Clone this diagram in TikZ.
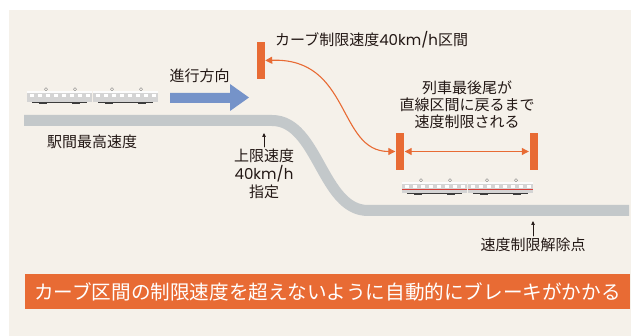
\documentclass[tikz,border=0pt]{standalone}
\usepackage{fontspec}
\setmainfont{Noto Sans CJK JP}
\newfontfamily\latinfont{Poppins}
\usepackage{tikz}
\usetikzlibrary{arrows}
\usetikzlibrary{arrows.meta}
\definecolor{fvfrea}{rgb}{0.9607843137254902,0.9450980392156862,0.9176470588235294}
\definecolor{eywbtu}{rgb}{0.9098039215686274,0.4196078431372549,0.20392156862745098}
\definecolor{ctcyca}{rgb}{0.7647058823529411,0.7843137254901961,0.792156862745098}
\definecolor{xvztcz}{rgb}{0.4588235294117647,0.5764705882352941,0.788235294117647}
\definecolor{stryrv}{rgb}{0.13725490196078433,0.09411764705882353,0.08235294117647059}
\definecolor{dududu}{rgb}{0.8313725490196079,0.8313725490196079,0.8313725490196079}
\definecolor{tctctc}{rgb}{0.23529411764705882,0.23529411764705882,0.23529411764705882}
\definecolor{dzuqta}{rgb}{0.8509803921568627,0.25098039215686274,0.22745098039215686}
\begin{document}
\begin{tikzpicture}[line cap=round,line join=round,>=triangle 45,x=1pt,y=-1pt,
  bar/.style={fill=eywbtu,inner sep=0pt,minimum width=8pt,minimum height=37pt},
  lbl/.style={text=stryrv,inner sep=0pt,font=\fontsize{15}{17}\selectfont},
  orarr/.style={eywbtu,line width=1.1pt,arrows={Triangle[length=7pt,width=7pt]-Triangle[length=7pt,width=7pt]}},
  uparr/.style={stryrv,line width=0.7pt,arrows={-Triangle[length=4pt,width=3.5pt]}}]
\useasboundingbox (0,0) rectangle (631,336);
\fill[white] (0,0) rectangle (631,336);
\fill[fvfrea] (9,10) rectangle (631,336);
% track with the curve
\draw[ctcyca,line width=11pt,line cap=butt] (24,120.5) -- (272,120.5) .. controls (318,120.5) and (322,210.5) .. (368,210.5) -- (629,210.5);
% trains
\foreach \tx/\ty/\red in {27/87/0,402/178/1}
{
\begin{scope}[shift={(\tx,\ty)}]
\foreach \c in {0,66}
{
\begin{scope}[shift={(\c,0)}]
\draw[gray,line width=0.4pt] (19,2.2) circle (1.6pt);
\draw[gray,line width=0.4pt] (48,2.2) circle (1.6pt);
\fill[dududu] (0,4) rectangle (65,15);
\fill[white!92!dududu] (0,4) rectangle (65,6);
\foreach \w in {3,11,19,27,35,43,51,59}
\fill[white] (\w,7.5) rectangle (\w+4,10);
\ifnum\red=1
\fill[dzuqta] (0,10.6) rectangle (65,11.8);
\fi
\fill[tctctc] (5,15) rectangle (60,16.2);
\fill[tctctc] (12,15) rectangle (20,17.5);
\fill[tctctc] (45,15) rectangle (53,17.5);
\end{scope}
}
\end{scope}
}
% direction of travel
\fill[xvztcz] (170,93) -- (230,93) -- (230,84) -- (249,97.5) -- (230,111) -- (230,103) -- (170,103) -- cycle;
\node[lbl] (dirlbl) at (199.5,76) {進行方向};
% curve section markers
\node[bar] (curvebar) at (261,60.5) {};
\node[bar] (startbar) at (399.5,151.5) {};
\node[bar] (endbar) at (534,151.5) {};
\node[lbl,anchor=west] (curvelbl) at (275,40) {カーブ制限速度{\latinfont 40km/h}区間};
\draw[orarr] (curvebar.east) .. controls +(86,-3) and +(-58,0) .. (startbar.west);
\draw[orarr,shorten <=1pt,shorten >=1pt] (startbar.east) -- (endbar.west);
\node[lbl,align=center] (taillbl) at (467,105) {列車最後尾が\\直線区間に戻るまで\\速度制限される};
% labels below the track
\node[lbl] (stnlbl) at (92,142) {駅間最高速度};
\node[lbl,align=center,anchor=north,font=\fontsize{15}{18}\selectfont] (limlbl) at (264,149) {上限速度\\{\latinfont 40km/h}\\指定};
\coordinate (limtip) at (264,133);
\draw[uparr,shorten <=2pt] (limlbl.north) -- (limtip);
\node[lbl,anchor=north] (endlbl) at (533,238) {速度制限解除点};
\coordinate (endtip) at (533,221);
\draw[uparr,shorten <=2pt] (endlbl.north) -- (endtip);
% banner
\node[fill=eywbtu,text=white,inner sep=0pt,minimum width=605pt,minimum height=35pt,font=\fontsize{19.6}{22}\selectfont] (banner) at (327.5,291.5) {カーブ区間の制限速度を超えないように自動的にブレーキがかかる};
\end{tikzpicture}
\end{document}
